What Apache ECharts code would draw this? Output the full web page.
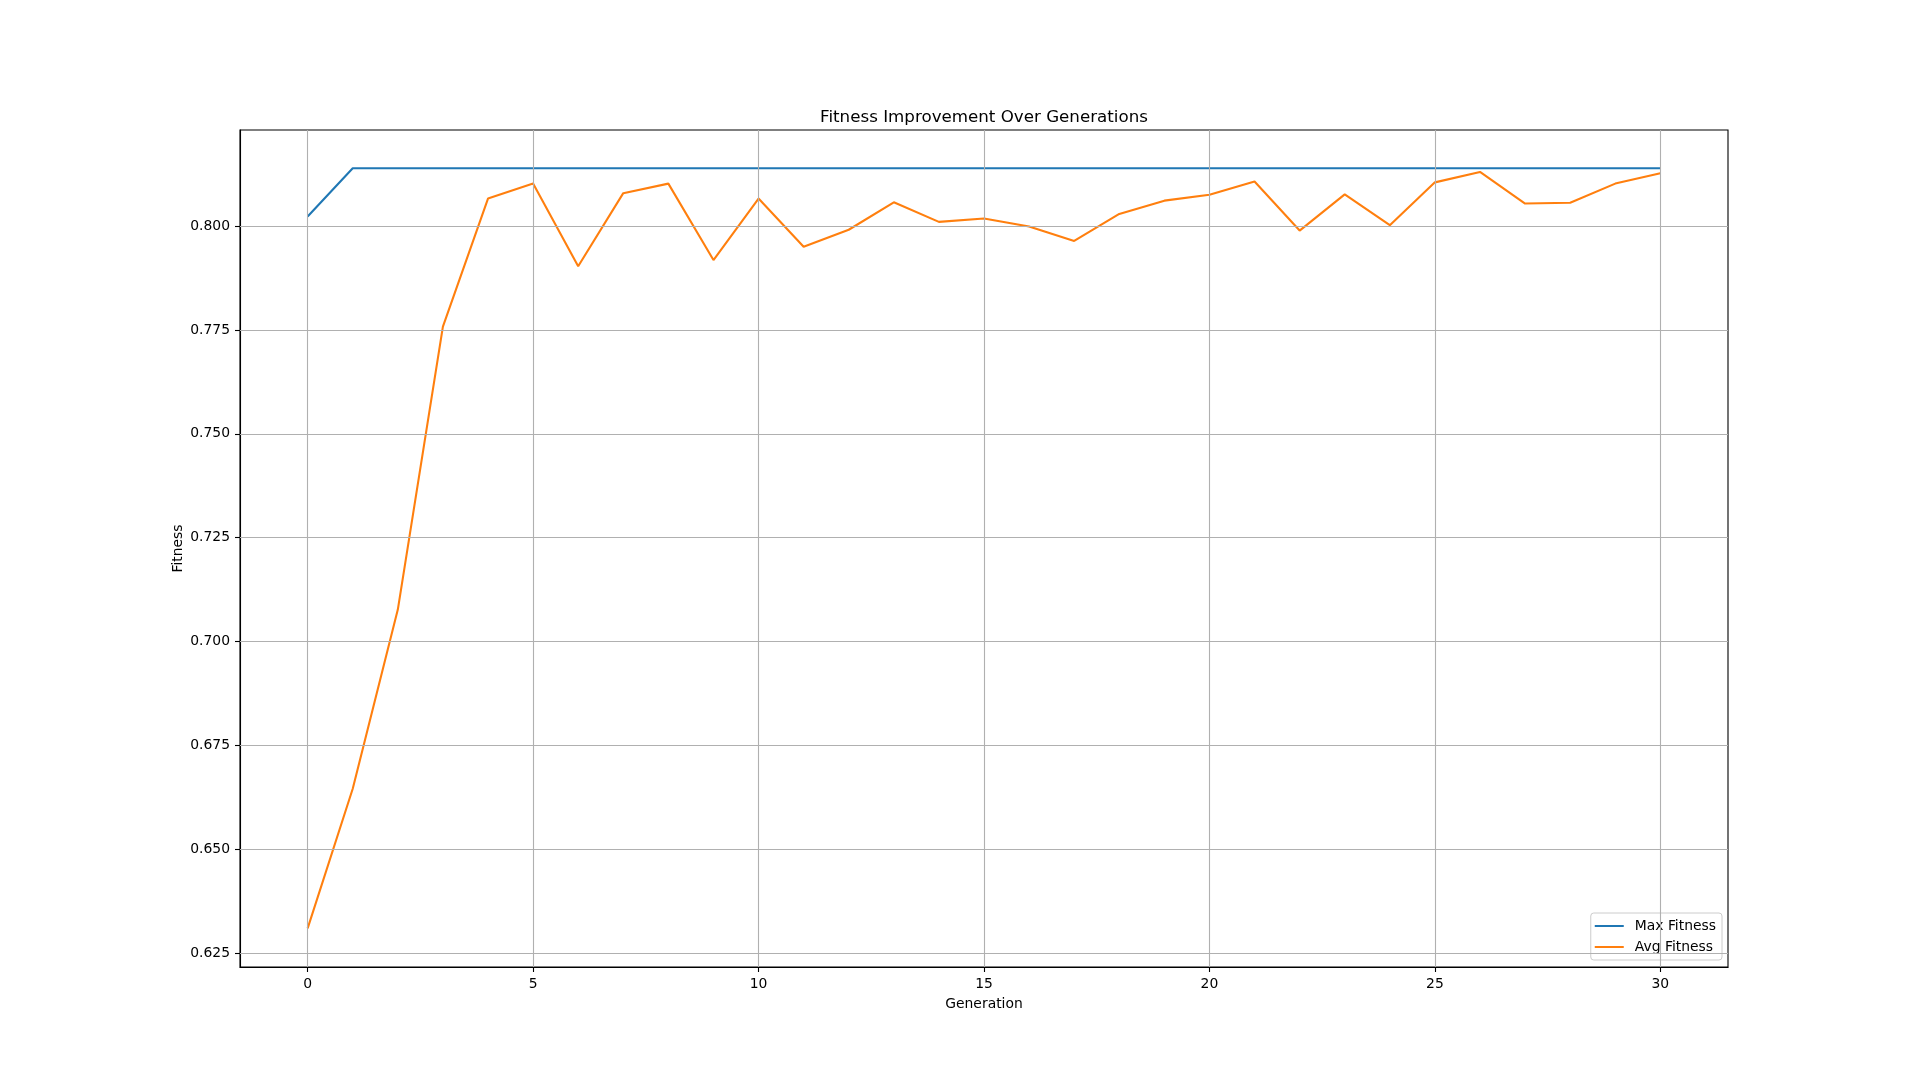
<!DOCTYPE html>
<html>
<head>
<meta charset="utf-8">
<title>Fitness Improvement Over Generations</title>
<script src="https://cdn.jsdelivr.net/npm/echarts@6/dist/echarts.min.js"></script>
<style>
  html, body { margin: 0; padding: 0; background: #fff; }
  #chart { width: 1920px; height: 1087px; }
</style>
</head>
<body>
<div id="chart"></div>
<script>
// data
const generations = [0, 1, 2, 3, 4, 5, 6, 7, 8, 9, 10, 11, 12, 13, 14, 15,
  16, 17, 18, 19, 20, 21, 22, 23, 24, 25, 26, 27, 28, 29, 30];

const maxFitness = [0.8023, 0.8139, 0.8139, 0.8139, 0.8139, 0.8139, 0.8139, 0.8139,
  0.8139, 0.8139, 0.8139, 0.8139, 0.8139, 0.8139, 0.8139, 0.8139, 0.8139, 0.8139,
  0.8139, 0.8139, 0.8139, 0.8139, 0.8139, 0.8139, 0.8139, 0.8139, 0.8139, 0.8139,
  0.8139, 0.8139, 0.8139];

const avgFitness = [0.6310, 0.6646, 0.7077, 0.7758, 0.8066, 0.8102, 0.7903, 0.8079,
  0.8102, 0.7918, 0.8066, 0.7950, 0.7991, 0.8057, 0.8010, 0.8018, 0.7999, 0.7964,
  0.8029, 0.8061, 0.8075, 0.8107, 0.7989, 0.8076, 0.8002, 0.8105, 0.8130, 0.8054,
  0.8056, 0.8102, 0.8127];

const xTicks = [0, 5, 10, 15, 20, 25, 30];
const yTicks = [0.625, 0.650, 0.675, 0.700, 0.725, 0.750, 0.775, 0.800];

const FONT = 'DejaVu Sans';
const GRID_COLOR = '#b0b0b0';

const chart = echarts.init(document.getElementById('chart'), null, { renderer: 'canvas' });

const pairs = ys => generations.map((g, i) => [g, ys[i]]);

// gridlines drawn through the axes' own scales, behind the data lines
const gridLines = [
  ...xTicks.map(v => ({ xAxis: v })),
  ...yTicks.map(v => ({ yAxis: v }))
];

const option = {
  backgroundColor: '#ffffff',
  animation: false,
  textStyle: { fontFamily: FONT, color: '#000' },
  title: {
    text: 'Fitness Improvement Over Generations',
    left: 984,
    top: 109,
    padding: 0,
    textAlign: 'center',
    textStyle: { fontFamily: FONT, fontSize: 16.7, fontWeight: 'normal', color: '#000' }
  },
  legend: {
    data: ['Max Fitness', 'Avg Fitness'],
    orient: 'vertical',
    right: 198,
    bottom: 127,
    padding: [6, 6, 6, 4],
    icon: 'rect',
    itemWidth: 29,
    itemHeight: 2,
    itemGap: 7,
    backgroundColor: 'rgba(255,255,255,0.8)',
    borderColor: '#cccccc',
    borderWidth: 1,
    borderRadius: 3,
    textStyle: { fontFamily: FONT, fontSize: 13.9, color: '#000', padding: [0, 0, 0, 6] }
  },
  grid: {
    left: 240,
    right: 192,
    top: 130,
    bottom: 120,
    show: true,
    borderColor: '#000',
    borderWidth: 1.1,
    backgroundColor: 'transparent'
  },
  xAxis: {
    type: 'value',
    min: -1.5,
    max: 31.5,
    name: 'Generation',
    nameLocation: 'middle',
    nameGap: 30,
    nameMoveOverlap: false,
    nameTextStyle: { fontFamily: FONT, fontSize: 13.9, color: '#000' },
    axisLine: { show: true, onZero: false, lineStyle: { color: '#000', width: 1.1 } },
    axisTick: { show: true, inside: false, length: 5, lineStyle: { color: '#000', width: 1.1 }, customValues: xTicks },
    axisLabel: { fontFamily: FONT, fontSize: 13.9, color: '#000', margin: 10, customValues: xTicks,
      formatter: v => String(v) },
    splitLine: { show: false }
  },
  yAxis: {
    type: 'value',
    min: 0.6217,
    max: 0.8231,
    name: 'Fitness',
    nameLocation: 'middle',
    nameRotate: 90,
    nameGap: 55,
    nameMoveOverlap: false,
    nameTextStyle: { fontFamily: FONT, fontSize: 13.9, color: '#000' },
    axisLine: { show: true, onZero: false, lineStyle: { color: '#000', width: 1.1 } },
    axisTick: { show: true, inside: false, length: 5, lineStyle: { color: '#000', width: 1.1 }, customValues: yTicks },
    axisLabel: { fontFamily: FONT, fontSize: 13.9, color: '#000', margin: 10, customValues: yTicks,
      formatter: v => v.toFixed(3) },
    splitLine: { show: false }
  },
  series: [
    {
      name: 'grid',
      type: 'line',
      data: pairs(avgFitness),
      symbol: 'none',
      lineStyle: { opacity: 0 },
      silent: true,
      z: 1,
      markLine: {
        silent: true,
        precision: 4,
        symbol: ['none', 'none'],
        label: { show: false },
        lineStyle: { color: GRID_COLOR, width: 1.1, type: 'solid' },
        emphasis: { disabled: true },
        data: gridLines
      }
    },
    {
      name: 'Max Fitness',
      type: 'line',
      data: pairs(maxFitness),
      symbol: 'none',
      z: 3,
      itemStyle: { color: '#1f77b4' },
      lineStyle: { color: '#1f77b4', width: 2.08 }
    },
    {
      name: 'Avg Fitness',
      type: 'line',
      data: pairs(avgFitness),
      symbol: 'none',
      z: 4,
      itemStyle: { color: '#ff7f0e' },
      lineStyle: { color: '#ff7f0e', width: 2.08 }
    }
  ]
};

chart.setOption(option);
window.addEventListener('resize', () => chart.resize());
</script>
</body>
</html>
